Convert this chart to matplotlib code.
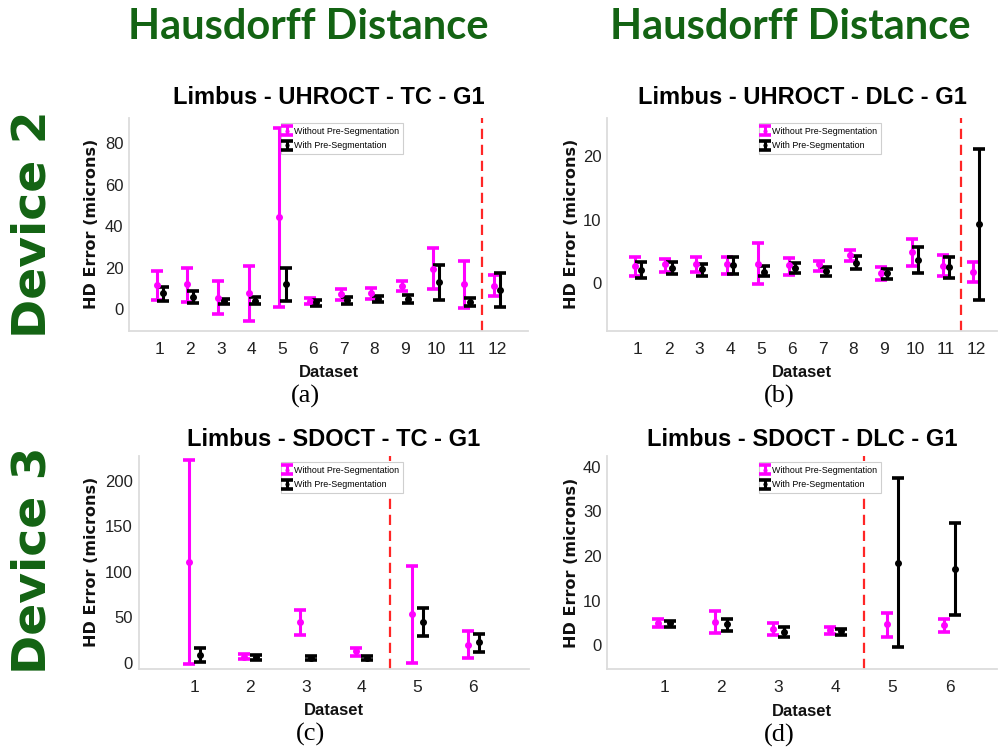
import matplotlib
matplotlib.use("Agg")
import matplotlib.pyplot as plt
from matplotlib.legend_handler import HandlerErrorbar
import numpy as np

# ---------------- data ----------------
# Panel (a): Limbus - UHROCT - TC - G1 (Device 2)
a_datasets = list(range(1, 13))
a_wo_mean = [11.7, 12.0, 5.6, 7.7, 44.3, 3.9, 7.2, 7.9, 11.4, 19.4, 12.0, 11.4]
a_wo_lo   = [4.5, 3.4, -2.2, -5.5, 1.3, 2.4, 4.5, 4.8, 8.8, 9.6, 0.5, 6.4]
a_wo_hi   = [18.6, 20.1, 13.8, 20.9, 87.2, 5.6, 9.6, 10.4, 13.7, 29.4, 23.5, 16.5]
a_w_mean  = [7.7, 6.1, 3.9, 4.0, 12.0, 3.4, 4.3, 4.8, 5.1, 13.0, 3.7, 9.3]
a_w_lo    = [4.0, 2.9, 2.7, 2.4, 4.2, 1.6, 2.7, 3.4, 3.2, 4.5, 1.8, 1.3]
a_w_hi    = [10.8, 8.7, 5.1, 5.8, 19.8, 4.7, 5.9, 6.3, 6.7, 21.4, 5.3, 17.7]

# Panel (b): Limbus - UHROCT - DLC - G1 (Device 2)
b_datasets = list(range(1, 13))
b_wo_mean = [2.6, 2.9, 3.0, 3.0, 3.0, 2.8, 2.9, 4.3, 1.5, 4.9, 2.7, 1.7]
b_wo_lo   = [1.0, 1.7, 1.7, 1.4, -0.2, 1.2, 1.9, 3.5, 0.4, 2.7, 1.0, 0.1]
b_wo_hi   = [4.1, 3.8, 4.1, 4.1, 6.2, 3.9, 3.5, 5.1, 2.4, 6.9, 4.3, 3.2]
b_w_mean  = [2.0, 2.3, 2.1, 2.8, 1.7, 2.3, 1.8, 3.1, 1.5, 3.6, 2.5, 9.3]
b_w_lo    = [0.7, 1.4, 1.1, 1.4, 1.1, 1.5, 1.1, 2.1, 0.6, 1.5, 0.8, -2.8]
b_w_hi    = [3.3, 3.2, 3.0, 4.1, 2.6, 3.1, 2.5, 4.2, 2.2, 5.7, 4.1, 21.2]

# Panel (c): Limbus - SDOCT - TC - G1 (Device 3)
c_datasets = list(range(1, 7))
c_wo_mean = [110.3, 6.6, 44.3, 12.5, 53.1, 19.4]
c_wo_lo   = [-1.0, 3.7, 30.8, 7.7, -0.5, 4.8]
c_wo_hi   = [222.7, 9.9, 57.5, 16.5, 106.6, 34.4]
c_w_mean  = [8.4, 5.9, 5.1, 5.1, 45.1, 22.3]
c_w_lo    = [0.4, 3.3, 2.9, 2.9, 29.7, 11.7]
c_w_hi    = [15.8, 8.4, 7.7, 7.3, 59.7, 31.5]

# Panel (d): Limbus - SDOCT - DLC - G1 (Device 3)
d_datasets = list(range(1, 7))
d_wo_mean = [4.9, 5.3, 3.7, 3.4, 4.8, 4.6]
d_wo_lo   = [4.0, 2.8, 2.3, 2.5, 1.9, 2.9]
d_wo_hi   = [5.8, 7.8, 4.9, 4.2, 7.2, 6.0]
d_w_mean  = [4.9, 4.7, 3.0, 3.2, 18.5, 17.0]
d_w_lo    = [4.2, 3.3, 1.8, 2.4, -0.3, 6.7]
d_w_hi    = [5.4, 6.0, 4.2, 3.7, 37.4, 27.5]

titles = ["Limbus - UHROCT - TC - G1", "Limbus - UHROCT - DLC - G1",
          "Limbus - SDOCT - TC - G1", "Limbus - SDOCT - DLC - G1"]
captions = ["(a)", "(b)", "(c)", "(d)"]
legend_labels = ["Without Pre-Segmentation", "With Pre-Segmentation"]
column_title = "Hausdorff Distance"
row_titles = ["Device 2", "Device 3"]
ylabel = "HD Error (microns)"
xlabel = "Dataset"

# ---------------- figure ----------------
W, H = 1000, 755
fig = plt.figure(figsize=(W / 100, H / 100), dpi=100)
plt.rcParams['font.family'] = ['Liberation Sans', 'DejaVu Sans']

def px_axes(left, right, top, bottom):
    return fig.add_axes([left / W, 1 - bottom / H, (right - left) / W, (bottom - top) / H])

MAGENTA = '#FF00FF'
GREEN = '#136313'
RED = '#FF2626'

panels = [
    dict(box=(129, 528, 118, 330.5), xlim=(0, 13), ylim=(-10.2, 92.2), yt=[0, 20, 40, 60, 80],
         ds=a_datasets, wo=(a_wo_mean, a_wo_lo, a_wo_hi), w=(a_w_mean, a_w_lo, a_w_hi), sep=11.5,
         title_y=98, leg=(281, 123), ylab_x=91),
    dict(box=(607, 997, 118, 330.5), xlim=(0, 12.67), ylim=(-7.6, 26.1), yt=[0, 10, 20],
         ds=b_datasets, wo=(b_wo_mean, b_wo_lo, b_wo_hi), w=(b_w_mean, b_w_lo, b_w_hi), sep=11.5,
         title_y=98, leg=(759, 123), ylab_x=571),
    dict(box=(138.5, 529, 456, 668.7), xlim=(0, 7), ylim=(-6.6, 227), yt=[0, 50, 100, 150, 200],
         ds=c_datasets, wo=(c_wo_mean, c_wo_lo, c_wo_hi), w=(c_w_mean, c_w_lo, c_w_hi), sep=4.5,
         title_y=440, leg=(281, 462), ylab_x=92),
    dict(box=(607, 997, 456, 669), xlim=(0, 6.83), ylim=(-5.3, 42.4), yt=[0, 10, 20, 30, 40],
         ds=d_datasets, wo=(d_wo_mean, d_wo_lo, d_wo_hi), w=(d_w_mean, d_w_lo, d_w_hi), sep=4.5,
         title_y=440, leg=(759, 462), ylab_x=571),
]

eb_kw = dict(fmt='o', linestyle='none', markersize=4, elinewidth=2.2, capsize=4, capthick=2.6)

for i, p in enumerate(panels):
    l, r, t, b = p['box']
    ax = px_axes(l, r, t, b)
    x = np.array(p['ds'], dtype=float)
    m, lo, hi = [np.array(v) for v in p['wo']]
    h1 = ax.errorbar(x - 0.1, m, yerr=[m - lo, hi - m], color=MAGENTA, **eb_kw)
    m, lo, hi = [np.array(v) for v in p['w']]
    h2 = ax.errorbar(x + 0.1, m, yerr=[m - lo, hi - m], color='black', **eb_kw)
    ax.axvline(p['sep'], color=RED, linewidth=1.6, linestyle=(0, (4.6, 2.6)))
    ax.set_xlim(*p['xlim'])
    ax.set_ylim(*p['ylim'])
    ax.set_xticks(x)
    ax.set_xticklabels([str(v) for v in p['ds']])
    ax.set_yticks(p['yt'])
    ax.tick_params(axis='both', length=0, colors='#222222')
    ax.tick_params(axis='y', pad=4, labelsize=12)
    ax.tick_params(axis='x', pad=8, labelsize=12.5)
    for s in ['top', 'right']:
        ax.spines[s].set_visible(False)
    for s in ['left', 'bottom']:
        ax.spines[s].set_color('#dcdcdc')
        ax.spines[s].set_linewidth(1.3)
    ax.set_facecolor('white')

    lx, ly = p['leg']
    leg = ax.legend([h1, h2], legend_labels, loc='upper left',
                    bbox_to_anchor=(lx / W, 1 - ly / H), bbox_transform=fig.transFigure,
                    borderaxespad=0, handlelength=0.5, handletextpad=0.5,
                    labelspacing=0.6, borderpad=0.45, fancybox=False, framealpha=1,
                    edgecolor='#cfcfcf', markerscale=0.5,
                    prop=dict(size=6.4),
                    handler_map={type(h1): HandlerErrorbar(yerr_size=0.5)})
    leg.get_frame().set_linewidth(0.8)
    for line in leg.get_lines():
        line.set_linewidth(1.2)

    cx = (l + r) / 2
    fig.text(cx / W, 1 - p['title_y'] / H, titles[i], ha='center', va='center',
             fontsize=17, fontweight='bold', color='black')
    # y label
    fig.text(p['ylab_x'] / W, 1 - ((t + b) / 2) / H, ylabel, rotation=90, ha='center', va='center',
             fontsize=11.5, fontweight='bold', family='DejaVu Sans', color='#111111')
    # x label
    fig.text(cx / W, 1 - (b + 42) / H, xlabel, ha='center', va='center',
             fontsize=12, fontweight='bold', color='#111111')
    # caption
    fig.text((cx - 23) / W, 1 - (b + 66) / H, captions[i], ha='center', va='center',
             fontsize=19, family='Liberation Serif', color='black')

# column titles
for cx in [308, 790]:
    fig.text(cx / W, 1 - 27 / H, column_title, ha='center', va='center', fontsize=30,
             fontweight='bold', family='Lato', color=GREEN)

# row titles
for cy, txt in zip([224, 560], row_titles):
    fig.text(33 / W, 1 - cy / H, txt, rotation=90, ha='center', va='center', fontsize=34,
             fontweight='bold', family='DejaVu Sans', color=GREEN)

fig.savefig('out.png', dpi=100, facecolor='white')
